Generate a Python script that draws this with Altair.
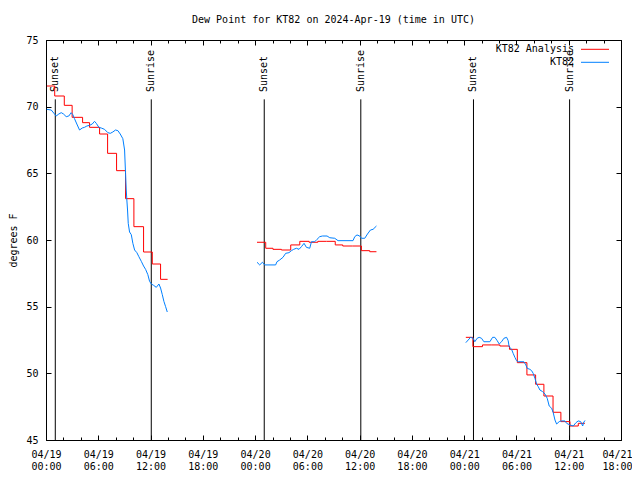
import altair as alt
import pandas as pd

FONT = "DejaVu Sans Mono"
TITLE = "Dew Point for KT82 on 2024-Apr-19 (time in UTC)"
T0 = pd.Timestamp("2024-04-19 00:00", tz="UTC")
RANGE_HOURS = 66  # 04/19 00:00 .. 04/21 18:00

# ---- KT82 observations (hours after 04/19 00:00 UTC, dew point in F) ----
obs_h_1 = [0.09, 0.60, 0.98, 1.17, 1.47, 1.75, 2.01, 2.32, 2.62, 2.89, 3.08, 3.27, 3.54, 3.85,
           4.16, 4.42, 4.69, 5.00, 5.31, 5.57, 5.77, 6.07, 6.34, 6.72, 7.10, 7.38, 7.67, 7.98,
           8.25, 8.52, 8.82, 9.02, 9.13, 9.21, 9.28, 9.36, 9.44, 9.59, 9.79, 9.97, 10.17, 10.43,
           10.66, 10.94, 11.20, 11.43, 11.69, 11.89, 12.09, 12.35, 12.66, 12.96, 13.15, 13.35,
           13.53, 13.73, 13.92]
obs_v_1 = [69.8, 69.75, 69.45, 69.3, 69.45, 69.55, 69.45, 69.25, 69.3, 69.55, 69.4, 69.1, 68.7, 68.25,
           68.4, 68.45, 68.55, 68.6, 68.7, 68.9, 68.75, 68.45, 68.4, 68.3, 68.05, 68.0, 68.1, 68.25,
           68.2, 67.95, 67.6, 66.75, 65.0, 63.75, 63.0, 62.25, 61.25, 60.6, 60.4, 59.75, 59.25, 59.05,
           58.75, 58.4, 58.05, 57.8, 57.4, 56.9, 56.7, 56.6, 56.45, 56.7, 56.4, 55.9,
           55.4, 55.0, 54.6]

obs_h_2 = [24.22, 24.53, 24.84, 25.10, 25.48, 26.36, 26.51, 26.82, 27.20, 27.51, 27.89, 28.17,
           28.43, 28.74, 29.04, 29.32, 29.62, 29.89, 30.27, 30.47, 30.84, 31.11, 31.42, 31.73,
           32.26, 32.57, 33.14, 33.52, 35.24, 35.44, 35.70, 36.01, 36.21, 36.59, 36.90, 37.24,
           37.54, 37.93]
obs_v_2 = [58.33, 58.13, 58.33, 58.13, 58.13, 58.13, 58.37, 58.5, 58.7, 59.0, 59.05, 59.2,
           59.3, 59.38, 59.3, 59.5, 59.75, 59.45, 59.38, 59.87, 59.87, 60.05, 60.25, 60.3,
           60.3, 60.17, 60.13, 59.95, 59.95, 60.25, 60.38, 60.3, 60.13, 60.13, 60.45, 60.75,
           60.8, 61.05]

obs_h_3 = [48.19, 48.46, 48.73, 49.03, 49.22, 49.49, 49.72, 49.99, 50.26, 50.95, 51.26, 51.52,
           51.79, 52.02, 52.29, 52.56, 52.87, 53.05, 53.16, 53.44, 53.62, 53.82, 54.01, 54.20,
           54.85, 55.08, 55.23, 55.54, 55.74, 55.92, 56.12, 56.31, 56.50, 56.69, 57.00, 57.27,
           57.53, 57.76, 58.04, 58.22, 58.42, 58.61, 58.91, 59.18, 59.56, 59.76, 60.14, 60.52,
           60.83, 61.09, 61.37, 61.60, 61.75, 61.90]
obs_v_3 = [52.3, 52.5, 52.7, 52.63, 52.37, 52.63, 52.7, 52.63, 52.37, 52.37, 52.7, 52.7,
           52.45, 52.2, 52.37, 52.63, 52.7, 52.45, 52.0, 51.8, 51.5, 51.2, 50.95, 50.87,
           50.87, 50.63, 50.38, 50.3, 50.2, 50.0, 49.63, 49.2, 49.0, 48.75, 48.63, 48.45,
           48.13, 47.55, 47.38, 47.05, 46.5, 46.2, 46.38, 46.43, 46.43, 46.25, 46.13, 46.05,
           46.3, 46.43, 46.38, 46.05, 46.38, 46.45]

# ---- KT82 Analysis (hourly steps) ----
ana_h_1 = [0.1, 1.0, 2.1, 3.0, 4.2, 5.0, 6.15, 7.07, 8.1, 9.13, 10.09, 11.2, 12.2, 13.15, 13.96]
ana_v_1 = [71.55, 70.8, 70.1, 69.2, 68.8, 68.45, 67.95, 66.5, 65.2, 63.1, 61.0, 59.1, 58.2, 57.05, 57.05]
ana_h_2 = [24.22, 25.22, 26.05, 27.02, 28.09, 29.13, 30.2, 31.2, 32.2, 33.2, 34.06, 35.2, 36.2, 37.16, 37.93]
ana_v_2 = [59.83, 59.38, 59.3, 59.25, 59.63, 59.9, 59.83, 59.9, 59.9, 59.63, 59.55, 59.55, 59.2, 59.12, 59.12]
ana_h_3 = [48.19, 49.0, 50.1, 51.1, 52.1, 53.2, 54.1, 55.2, 56.2, 57.15, 58.2, 59.1, 60.14, 61.1, 61.86]
ana_v_3 = [52.7, 52.0, 52.13, 52.13, 52.05, 51.8, 50.8, 49.88, 49.18, 48.3, 47.08, 46.38, 46.05, 46.25, 46.25]

# ---- Sun events (UTC) ----
sun_times = ["2024-04-19T01:04:00Z", "2024-04-19T12:05:00Z", "2024-04-20T01:03:00Z",
             "2024-04-20T12:08:00Z", "2024-04-21T01:04:00Z", "2024-04-21T12:06:00Z"]
sun_labels = ["Sunset", "Sunrise", "Sunset", "Sunrise", "Sunset", "Sunrise"]

SERIES = ["KT82 Analysis", "KT82"]
COLORS = ["#ff0000", "#0080ff"]


def iso(h):
    return (T0 + pd.Timedelta(hours=h)).strftime("%Y-%m-%dT%H:%M:%SZ")


def ms(ts):
    return int(ts.value // 10**6)


def build(series, parts):
    rows = []
    for seg, (hs, vs) in enumerate(parts):
        for h, v in zip(hs, vs):
            rows.append({"t": iso(h), "v": v, "seg": seg, "series": series})
    return pd.DataFrame(rows)


obs = build("KT82", [(obs_h_1, obs_v_1), (obs_h_2, obs_v_2), (obs_h_3, obs_v_3)])
ana = build("KT82 Analysis", [(ana_h_1, ana_v_1), (ana_h_2, ana_v_2), (ana_h_3, ana_v_3)])
sun = pd.DataFrame({"t": sun_times, "label": sun_labels})

W, H = 575, 400
x_end = ms(T0 + pd.Timedelta(hours=RANGE_HOURS))
xs = alt.Scale(type="utc", domain=[ms(T0), x_end], nice=False)
ys = alt.Scale(domain=[45, 75], nice=False, zero=False)
major = [ms(T0 + pd.Timedelta(hours=6 * k)) for k in range(RANGE_HOURS // 6 + 1)]
minor = [ms(T0 + pd.Timedelta(hours=2 * k)) for k in range(RANGE_HOURS // 2 + 1)]
yvals = [45, 50, 55, 60, 65, 70, 75]


def tick_axis(orient, values, size, offset):
    return alt.Axis(orient=orient, offset=offset, values=values, tickSize=size, ticks=True,
                    labels=False, domain=False, grid=False, title=None, tickColor="black",
                    tickWidth=1)


x_label_axis = alt.Axis(orient="bottom", values=major, ticks=False, tickSize=0, domain=False,
                        grid=False, title=None, labelPadding=9, labelLineHeight=12.5,
                        labelAngle=0, labelAlign="center", labelBaseline="top",
                        labelFlush=False, labelOverlap=False,
                        labelOffset={"condition": {"test": f"datum.value >= {x_end}", "value": -4},
                                     "value": 0},
                        labelExpr="[utcFormat(datum.value, '%m/%d'), utcFormat(datum.value, '%H:%M')]")
y_label_axis = alt.Axis(orient="left", values=yvals, ticks=False, tickSize=0, domain=False,
                        grid=False, title="degrees F", labelPadding=8, titlePadding=7)

# legend: label right-aligned, line sample drawn to the right of the label
color = alt.Color("series:N", scale=alt.Scale(domain=SERIES, range=COLORS),
                  legend=alt.Legend(title=None, orient="none", legendX=516, legendY=3.3,
                                    direction="vertical", symbolType="M2.364,0H7.455",
                                    symbolSize=121, symbolStrokeWidth=1, symbolOffset=0,
                                    labelAlign="right", labelBaseline="middle", labelOffset=0,
                                    labelFont=FONT, labelFontSize=10, labelColor="black",
                                    rowPadding=2, padding=0))

rules = alt.Chart(sun).mark_rule(color="black", strokeWidth=1).encode(
    x=alt.X("t:T", scale=xs, axis=tick_axis("top", minor, 3, -H)),
    y=alt.Y(datum=70.55, type="quantitative", scale=ys, axis=tick_axis("left", yvals, 5, -W)),
    y2=alt.Y2(datum=45),
)

sunset_text = alt.Chart(sun).mark_text(angle=270, align="left", baseline="middle", font=FONT,
                                       fontSize=10, color="black").encode(
    x=alt.X("t:T", scale=xs, axis=tick_axis("bottom", major, 5, -H)),
    y=alt.Y(datum=71.1, type="quantitative", scale=ys, axis=None),
    text="label:N",
).transform_filter(alt.datum.label == "Sunset")

sunrise_text = alt.Chart(sun).mark_text(angle=270, align="left", baseline="middle", font=FONT,
                                        fontSize=10, color="black").encode(
    x=alt.X("t:T", scale=xs, axis=tick_axis("bottom", minor, 3, -H)),
    y=alt.Y(datum=71.1, type="quantitative", scale=ys, axis=None),
    text="label:N",
).transform_filter(alt.datum.label == "Sunrise")

ana_line = alt.Chart(ana).mark_line(interpolate="step-after", strokeWidth=1).encode(
    x=alt.X("t:T", scale=xs, axis=x_label_axis),
    y=alt.Y("v:Q", scale=ys, axis=y_label_axis),
    color=color,
    detail="seg:N",
)

obs_line = alt.Chart(obs).mark_line(strokeWidth=1).encode(
    x=alt.X("t:T", scale=xs, axis=tick_axis("top", major, 5, -H)),
    y=alt.Y("v:Q", scale=ys, axis=tick_axis("right", yvals, 5, -W)),
    color=color,
    detail="seg:N",
)

chart = alt.layer(rules, sunset_text, sunrise_text, ana_line, obs_line).resolve_axis(
    x="independent", y="independent"
).properties(
    width=W, height=H,
    title=alt.TitleParams(TITLE, font=FONT, fontSize=10, fontWeight="normal", color="black",
                          anchor="middle", frame="group", offset=10),
    autosize=alt.AutoSizeParams(type="none"),
    padding={"left": 38, "top": 32, "right": 11, "bottom": 32},
).configure_axis(
    labelFont=FONT, labelFontSize=10, labelColor="black", titleFont=FONT, titleFontSize=10,
    titleFontWeight="normal", titleColor="black",
).configure_view(stroke="black", strokeWidth=1)

chart.save("out.html", embed_options={"renderer": "svg", "actions": False})
